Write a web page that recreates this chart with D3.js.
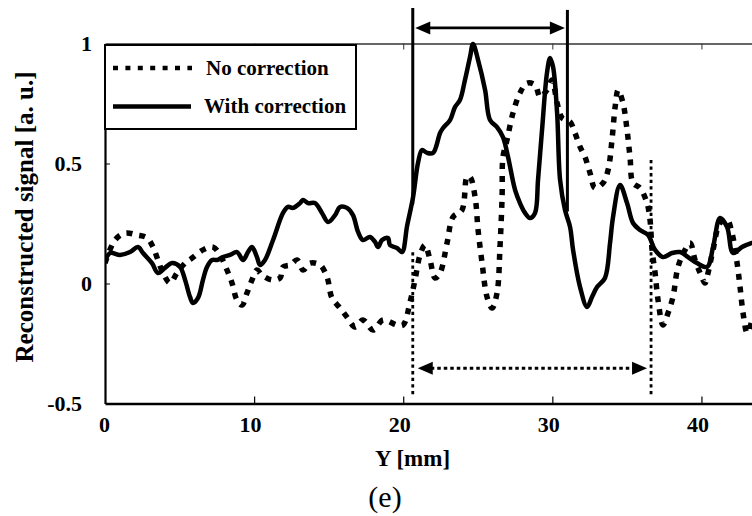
<!DOCTYPE html>
<html>
<head>
<meta charset="utf-8">
<script src="https://cdn.jsdelivr.net/npm/d3@7"></script>
<style>
html,body{margin:0;padding:0;background:#fff;}
svg{display:block;}
text{font-family:"Liberation Serif","Times New Roman",serif;fill:#000;}
</style>
</head>
<body>
<svg id="chart" width="752" height="516"></svg>
<script>
// ---- Data ----
const seriesNames = ["No correction", "With correction"];

// "No correction" (dotted)
const ncMm = [0,0.67,1.34,2.15,2.82,3.22,3.55,3.89,4.36,4.83,
  5.37,5.84,6.57,7.24,7.71,8.18,8.52,8.85,9.19,9.52,
  9.86,10.19,10.53,11.20,11.74,11.94,12.41,12.88,13.28,13.75,
  14.42,14.89,15.22,15.76,16.23,16.77,17.30,17.97,18.65,19.58,
  19.99,20.46,20.79,21.13,21.46,21.80,22.13,22.47,22.94,23.34,
  23.94,24.28,24.48,24.82,25.02,25.29,25.62,25.96,26.29,26.49,
  26.63,26.69,26.96,27.36,27.83,28.30,28.84,29.18,29.64,29.98,
  30.32,30.65,31.19,31.52,31.86,32.19,32.53,32.86,33.40,33.74,
  34.00,34.21,34.41,34.74,35.01,35.21,35.41,35.88,36.35,36.55,
  36.69,36.89,37.09,37.42,37.76,38.09,38.43,38.90,39.24,39.57,
  39.91,40.24,40.44,40.78,41.25,41.72,42.05,42.39,42.59,42.79,
  43.06,43.26,43.39];
const ncVal = [0.085,0.181,0.210,0.202,0.190,0.152,0.098,0.044,0.002,0.044,
  0.085,0.106,0.140,0.152,0.119,0.056,0.002,-0.069,-0.090,-0.040,
  0.015,0.056,0.035,0.015,0.023,0.069,0.077,0.098,0.056,0.085,
  0.077,0.027,-0.060,-0.102,-0.140,-0.181,-0.152,-0.194,-0.152,-0.173,
  -0.173,-0.077,0.015,0.119,0.160,0.098,0.023,0.044,0.169,0.277,
  0.306,0.444,0.444,0.360,0.223,0.085,-0.056,-0.102,-0.040,0.152,
  0.360,0.527,0.598,0.710,0.794,0.835,0.827,0.777,0.806,0.848,
  0.752,0.690,0.673,0.627,0.569,0.527,0.460,0.398,0.419,0.473,
  0.598,0.735,0.806,0.752,0.640,0.527,0.419,0.398,0.335,0.265,
  0.140,0.044,-0.069,-0.173,-0.123,-0.056,0.069,0.140,0.169,0.098,
  0.044,0.002,0.044,0.140,0.252,0.265,0.210,0.085,-0.015,-0.123,
  -0.206,-0.181,-0.152];

// "With correction" (solid)
const wcMm = [0,0.34,1.01,1.68,2.21,2.55,3.15,3.55,4.02,4.49,
  5.03,5.37,5.70,5.90,6.24,6.57,6.84,7.18,7.51,7.91,
  8.38,8.85,9.26,9.59,9.86,10.19,10.40,10.73,11.27,11.94,
  12.27,12.61,13.08,13.28,13.62,14.08,14.55,14.96,15.43,15.76,
  16.23,16.63,16.97,17.30,17.77,18.11,18.31,18.58,18.98,19.11,
  19.58,19.92,20.26,20.66,20.99,21.26,21.60,22.00,22.47,22.67,
  23.14,23.47,23.81,24.14,24.48,24.68,25.02,25.49,25.82,26.29,
  26.69,27.03,27.50,27.83,28.17,28.50,28.84,29.04,29.31,29.64,
  29.85,30.05,30.32,30.52,30.85,31.19,31.39,31.86,32.33,32.66,
  33.00,33.53,33.87,34.07,34.54,35.01,35.41,35.88,36.42,36.89,
  37.42,38.03,38.56,39.10,39.70,40.38,40.78,41.25,41.72,42.12,
  42.72,43.39];
const wcVal = [0.090,0.127,0.119,0.131,0.152,0.127,0.085,0.044,0.065,0.085,
  0.069,0.015,-0.056,-0.081,-0.060,0.015,0.069,0.098,0.098,0.110,
  0.119,0.131,0.098,0.131,0.152,0.110,0.077,0.098,0.181,0.294,
  0.319,0.315,0.335,0.348,0.335,0.335,0.294,0.256,0.285,0.319,
  0.315,0.285,0.215,0.181,0.194,0.173,0.152,0.181,0.190,0.160,
  0.148,0.131,0.240,0.360,0.502,0.556,0.544,0.544,0.627,0.648,
  0.681,0.735,0.765,0.848,0.944,0.998,0.931,0.806,0.681,0.652,
  0.610,0.527,0.390,0.335,0.294,0.273,0.294,0.431,0.640,0.877,
  0.940,0.902,0.710,0.431,0.306,0.235,0.140,-0.015,-0.098,-0.056,
  -0.015,0.023,0.169,0.277,0.410,0.335,0.252,0.223,0.202,0.140,
  0.110,0.127,0.131,0.110,0.085,0.069,0.152,0.273,0.235,0.127,
  0.152,0.169];

const xTicks = [0, 10, 20, 30, 40];
const xTickLabels = ["0", "10", "20", "30", "40"];
const yTicks = [-0.5, 0, 0.5, 1];
const yTickLabels = ["-0.5", "0", "0.5", "1"];
const xTitle = "Y [mm]";
const yTitle = "Reconstructed signal [a. u.]";
const caption = "(e)";

// annotation markers (mm / signal units)
const solidMarkX = [20.64, 31.01];
const solidMarkTop = [1.148, 1.140];
const solidMarkBottom = [0.33, 0.30];
const solidArrowY = 1.065;
const dotMarkX = [20.64, 36.62];
const dotMarkTop = [0.13, 0.515];
const dotMarkBottom = [-0.472, -0.472];
const dotArrowY = -0.353;

// ---- Layout ----
const svg = d3.select("#chart");
svg.append("rect").attr("width", 752).attr("height", 516).attr("fill", "#fff");

const x = d3.scaleLinear().domain([0, 43.39]).range([105, 752]);
const y = d3.scaleLinear().domain([-0.5, 1]).range([403.5, 43.5]);

// top border with inward ticks
const topAxis = svg.append("g").attr("transform", `translate(0,${y(1)})`)
  .call(d3.axisTop(x).tickValues([10,20,30,40]).tickSizeInner(-6).tickSizeOuter(0).tickFormat(""));
topAxis.select(".domain").attr("stroke", "#333").attr("stroke-width", 1.3);
topAxis.selectAll(".tick line").attr("stroke", "#333").attr("stroke-width", 1);

// bottom axis
const botAxis = svg.append("g").attr("transform", `translate(0,${y(-0.5)})`)
  .call(d3.axisBottom(x).tickValues(xTicks).tickSizeInner(-7).tickSizeOuter(0).tickPadding(13)
    .tickFormat((d, i) => xTickLabels[i]));
botAxis.select(".domain").attr("stroke", "#000").attr("stroke-width", 2.6);
botAxis.selectAll(".tick line").attr("stroke", "#000").attr("stroke-width", 1.2);
botAxis.selectAll(".tick").filter(d => d === 0).select("line").remove();
botAxis.selectAll(".tick text")
  .attr("font-family", '"Liberation Serif","Times New Roman",serif')
  .attr("font-weight", "bold").attr("font-size", 22)
  .attr("dx", (d, i) => xTickLabels[i].length > 1 ? -4 : -1);

// left axis
const leftAxis = svg.append("g").attr("transform", `translate(${x(0)},0)`)
  .call(d3.axisLeft(y).tickValues(yTicks).tickSizeInner(-5).tickSizeOuter(0).tickPadding(13)
    .tickFormat((d, i) => yTickLabels[i]));
leftAxis.select(".domain").attr("stroke", "#000").attr("stroke-width", 2.2);
leftAxis.selectAll(".tick line").attr("stroke", "#000").attr("stroke-width", 1)
  .attr("opacity", d => (d === 0 || d === 0.5) ? 1 : 0);
leftAxis.selectAll(".tick text")
  .attr("font-family", '"Liberation Serif","Times New Roman",serif')
  .attr("font-weight", "bold").attr("font-size", 22)
  .attr("x", (d, i) => yTickLabels[i].includes(".") ? -23 : -13);

// ---- Series ----
const line = d3.line().x(d => x(d[0])).y(d => y(d[1])).curve(d3.curveCatmullRom.alpha(0.5));
const ncData = ncMm.map((m, i) => [m, ncVal[i]]);
const wcData = wcMm.map((m, i) => [m, wcVal[i]]);

svg.append("defs").append("clipPath").attr("id", "plotClip")
  .append("rect").attr("x", x(0)).attr("y", 0).attr("width", 752 - x(0)).attr("height", y(-0.5));

const plot = svg.append("g").attr("clip-path", "url(#plotClip)");
plot.append("path").datum(ncData).attr("d", line)
  .attr("fill", "none").attr("stroke", "#000").attr("stroke-width", 5.5)
  .attr("stroke-dasharray", "6,7").attr("stroke-linejoin", "round");
plot.append("path").datum(wcData).attr("d", line)
  .attr("fill", "none").attr("stroke", "#000").attr("stroke-width", 4.5)
  .attr("stroke-linejoin", "round").attr("stroke-linecap", "round");

// ---- Annotations ----
const ann = svg.append("g");
solidMarkX.forEach((m, i) => {
  ann.append("line").attr("x1", x(m)).attr("x2", x(m))
    .attr("y1", y(solidMarkTop[i])).attr("y2", y(solidMarkBottom[i]))
    .attr("stroke", "#000").attr("stroke-width", 3);
});
dotMarkX.forEach((m, i) => {
  ann.append("line").attr("x1", x(m)).attr("x2", x(m))
    .attr("y1", y(dotMarkTop[i])).attr("y2", y(dotMarkBottom[i]))
    .attr("stroke", "#000").attr("stroke-width", 2.8).attr("stroke-dasharray", "3.3,3.3");
});

function arrow(x1, x2, yy, dashed) {
  const headL = 15, headH = 6.5;
  ann.append("line").attr("x1", x1 + headL - 2).attr("x2", x2 - headL + 2)
    .attr("y1", yy).attr("y2", yy).attr("stroke", "#000").attr("stroke-width", dashed ? 3 : 2.6)
    .attr("stroke-dasharray", dashed ? "3.5,3" : null);
  ann.append("path").attr("d", `M${x1},${yy}L${x1 + headL},${yy - headH}L${x1 + headL},${yy + headH}Z`).attr("fill", "#000");
  ann.append("path").attr("d", `M${x2},${yy}L${x2 - headL},${yy - headH}L${x2 - headL},${yy + headH}Z`).attr("fill", "#000");
}
arrow(x(solidMarkX[0]) + 2.5, x(solidMarkX[1]) - 2.5, y(solidArrowY), false);
arrow(x(dotMarkX[0]) + 5, x(dotMarkX[1]) - 4, y(dotArrowY), true);

// ---- Legend ----
const lg = svg.append("g");
lg.append("rect").attr("x", 105).attr("y", 45).attr("width", 251).attr("height", 84)
  .attr("fill", "#fff").attr("stroke", "#000").attr("stroke-width", 2);
lg.append("line").attr("x1", 113).attr("x2", 192).attr("y1", 68).attr("y2", 68)
  .attr("stroke", "#000").attr("stroke-width", 4.7).attr("stroke-dasharray", "5,7.4");
lg.append("line").attr("x1", 113).attr("x2", 191).attr("y1", 106.5).attr("y2", 106.5)
  .attr("stroke", "#000").attr("stroke-width", 4.7);
lg.append("text").attr("x", 206).attr("y", 75).attr("font-size", 21).attr("font-weight", "bold").text(seriesNames[0]);
lg.append("text").attr("x", 204).attr("y", 113).attr("font-size", 21).attr("font-weight", "bold").text(seriesNames[1]);

// ---- Titles ----
svg.append("text").attr("x", 412.5).attr("y", 466).attr("text-anchor", "middle")
  .attr("font-size", 23).attr("font-weight", "bold").text(xTitle);
svg.append("text").attr("transform", "translate(33,217) rotate(-90)").attr("text-anchor", "middle")
  .attr("font-size", 25).attr("font-weight", "bold").text(yTitle);
svg.append("text").attr("x", 385).attr("y", 507).attr("text-anchor", "middle")
  .attr("font-size", 30).text(caption);
</script>
</body>
</html>
